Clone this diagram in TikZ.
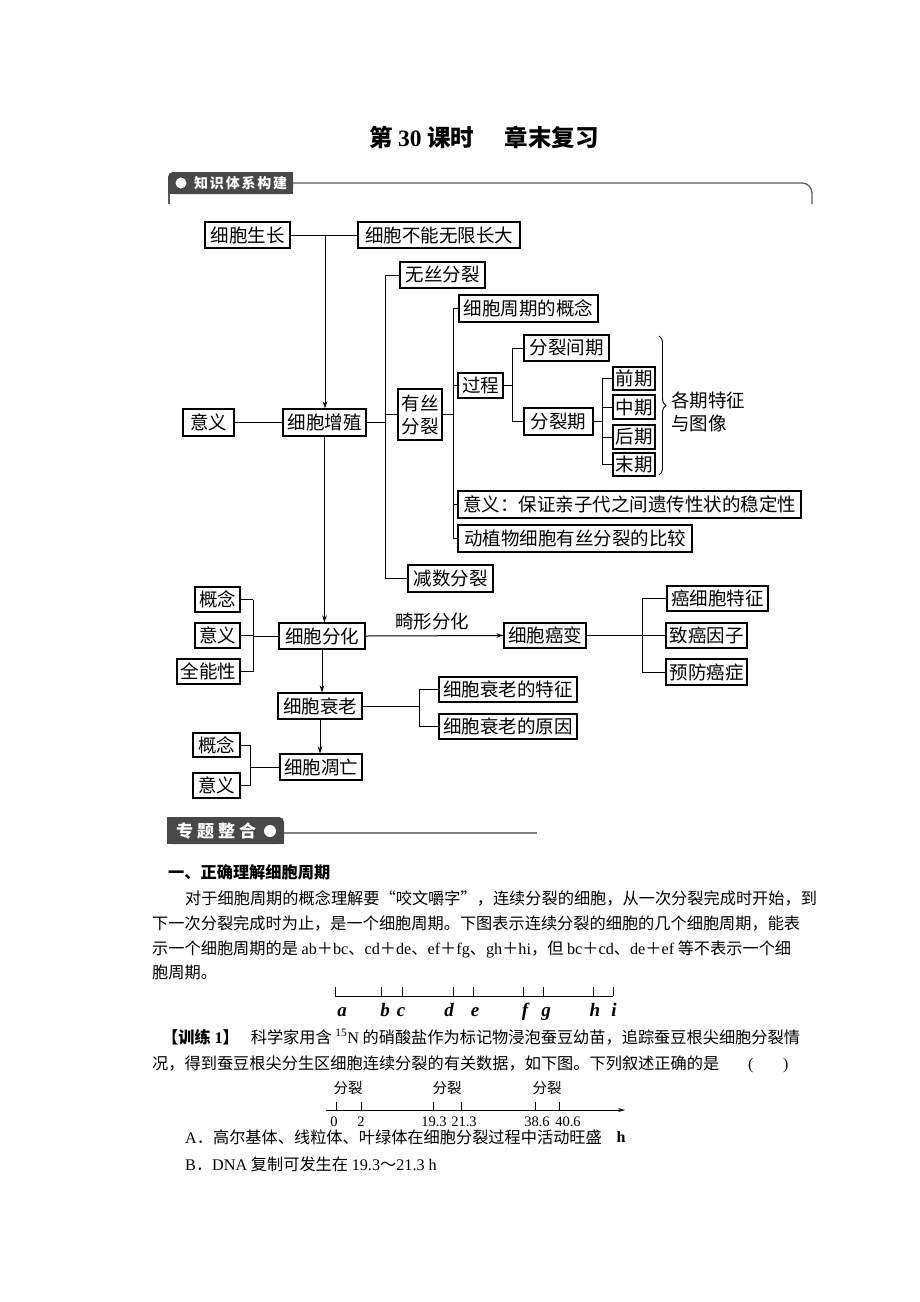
\documentclass[tikz,border=0pt]{standalone}
\usepackage{fontspec}
\setmainfont{Liberation Serif}
\newfontfamily\cjk{Noto Sans CJK SC}
\usetikzlibrary{arrows.meta,decorations.pathreplacing}
\definecolor{hdr}{RGB}{72,72,72}
\definecolor{hdrline}{RGB}{85,95,85}
\newcommand\lat[1]{{\rmfamily #1}}
\newcommand\hs{\hspace{1.8pt}}
\newcommand\mybox[6]{\node[bx,minimum width={#4-#2},minimum height={#5-#3}] (#1) at ({(#2+#4)/2},{(#3+#5)/2}) {#6};}
\begin{document}
\begin{tikzpicture}[x=1pt,y=-1pt,
 bx/.style={draw=black,line width=1.15pt,inner sep=0pt,fill=white,font=\cjk\fontsize{18.5}{22}\selectfont},
 ln/.style={draw=black,line width=1pt},
 ar/.style={ln,-{Stealth[length=7pt,width=4.5pt]}},
 txt/.style={anchor=base west,inner sep=0pt,font=\cjk\fontsize{16.2}{18}\selectfont},
 lbl/.style={inner sep=0pt,font=\cjk\fontsize{18.5}{22}\selectfont},
 tick/.style={inner sep=0pt,anchor=base,font=\fontsize{14.5}{16}\selectfont},
 abc/.style={inner sep=0pt,anchor=base,font=\fontsize{19}{22}\selectfont\bfseries\itshape},
 tl/.style={draw=black,line width=0.9pt}]
\fill[white] (0,0) rectangle (920,1302);
\useasboundingbox (0,0) rectangle (920,1302);

% title
\node[inner sep=0pt,font=\cjk\fontsize{23.5}{26}\selectfont\bfseries] (title) at (484,137) {第 \lat{\bfseries 30} 课时\hspace{1.3em}章末复习};

% header 1
\fill[hdr,rounded corners=5pt] (168,172) rectangle (293,194);
\fill[hdr] (168,178) rectangle (293,194);
\fill[hdr] (174,172) rectangle (293,194);
\fill[white] (181,183) circle (5.5);
\node[inner sep=0pt,anchor=west,text=white,font=\cjk\fontsize{14}{16}\selectfont\bfseries] (h1) at (194,183) {知\hs 识\hs 体\hs 系\hs 构\hs 建};
\draw[hdrline,line width=1.3pt,rounded corners=10pt] (293,183) -- (812,183) -- (812,204);
\draw[hdrline,line width=1.3pt] (169,194) -- (169,204);

% boxes
\mybox{grow}{205}{222}{290}{248}{细胞生长}
\mybox{limit}{358}{222}{520}{248}{细胞不能无限长大}
\mybox{amit}{400}{262}{485}{288}{无丝分裂}
\mybox{ccon}{459}{295}{598}{322}{细胞周期的概念}
\mybox{inter}{524}{335}{609}{361}{分裂间期}
\mybox{proc}{458}{373}{503}{398}{过程}
\node[bx,align=center,minimum width=44,minimum height=51,font=\cjk\fontsize{18.5}{23}\selectfont] (mito) at (420,414.5) {有丝\\分裂};
\mybox{mean1}{183}{409}{234}{436}{意义}
\mybox{prolif}{283}{409}{366}{436}{细胞增殖}
\mybox{mphase}{524}{408}{593}{435}{分裂期}
\mybox{pro}{613}{367}{655}{390}{前期}
\mybox{meta}{613}{395}{655}{419}{中期}
\mybox{ana}{613}{425}{655}{449}{后期}
\mybox{telo}{613}{453}{655}{476}{末期}
\mybox{mean2}{458}{491}{801}{518}{意义：保证亲子代之间遗传性状的稳定性}
\mybox{comp}{458}{525}{692}{552}{动植物细胞有丝分裂的比较}
\mybox{meio}{408}{565}{493}{592}{减数分裂}
\mybox{con1}{195}{587}{240}{612}{概念}
\mybox{mean3}{195}{623}{240}{648}{意义}
\mybox{toti}{177}{659}{240}{684}{全能性}
\mybox{diff}{279}{623}{365}{649}{细胞分化}
\mybox{canc}{504}{623}{586}{648}{细胞癌变}
\mybox{cf}{667}{586}{768}{611}{癌细胞特征}
\mybox{carc}{666}{623}{747}{648}{致癌因子}
\mybox{prev}{666}{659}{747}{685}{预防癌症}
\mybox{aging}{278}{693}{362}{719}{细胞衰老}
\mybox{af}{439}{677}{577}{702}{细胞衰老的特征}
\mybox{ac}{439}{714}{577}{739}{细胞衰老的原因}
\mybox{con2}{193}{733}{240}{757}{概念}
\mybox{mean4}{193}{773}{240}{798}{意义}
\mybox{apop}{280}{754}{362}{780}{细胞凋亡}

% connectors
\draw[ln] (grow) -- (limit);
\coordinate (j1) at (325,235);
\draw[ar] (j1) -- (j1 |- prolif.north);
\draw[ln] (mean1) -- (prolif);
% tree from prolif
\coordinate (t1) at (385,0);
\draw[ln] (prolif.east) -- (prolif.east -| t1);
\draw[ln] (t1 |- amit) -- (t1 |- meio);
\draw[ln] (t1 |- amit) -- (amit.west);
\draw[ln] (t1 |- mito) -- (mito.west);
\draw[ln] (t1 |- meio) -- (meio.west);
% tree from mito
\coordinate (t2) at (453,0);
\draw[ln] (mito.east) -- (mito.east -| t2);
\draw[ln] (t2 |- ccon) -- (t2 |- comp);
\draw[ln] (t2 |- ccon) -- (ccon.west);
\draw[ln] (t2 |- proc) -- (proc.west);
\draw[ln] (t2 |- mean2) -- (mean2.west);
\draw[ln] (t2 |- comp) -- (comp.west);
% tree from proc
\coordinate (t3) at (512,0);
\draw[ln] (proc.east) -- (proc.east -| t3);
\draw[ln] (t3 |- inter) -- (t3 |- mphase);
\draw[ln] (t3 |- inter) -- (inter.west);
\draw[ln] (t3 |- mphase) -- (mphase.west);
% tree from mphase
\coordinate (t4) at (602,0);
\draw[ln] (mphase.east) -- (mphase.east -| t4);
\draw[ln] (t4 |- pro) -- (t4 |- telo);
\draw[ln] (t4 |- pro) -- (pro.west);
\draw[ln] (t4 |- meta) -- (meta.west);
\draw[ln] (t4 |- ana) -- (ana.west);
\draw[ln] (t4 |- telo) -- (telo.west);
% brace
\draw[line width=0.9pt,decorate,decoration={brace,amplitude=7pt}] (659,336) -- (659,475);
\node[lbl,anchor=west,align=left,font=\cjk\fontsize{18.5}{23}\selectfont] (brt) at (671,412) {各期特征\\与图像};
% vertical main arrows
\draw[ar] (prolif.south) -- (prolif.south |- diff.north);
\draw[ar] (diff.south) -- (diff.south |- aging.north);
\draw[ar] (aging.south) -- (aging.south |- apop.north);
% diff left tree
\coordinate (t5) at (253,0);
\draw[ln] (diff.west) -- (diff.west -| t5);
\draw[ln] (t5 |- con1) -- (t5 |- toti);
\draw[ln] (con1.east) -- (con1.east -| t5);
\draw[ln] (mean3.east) -- (mean3.east -| t5);
\draw[ln] (toti.east) -- (toti.east -| t5);
% cancer
\draw[ar] (diff.east) -- (canc.west);
\node[lbl] (abn) at (432,622) {畸形分化};
\coordinate (t6) at (642,0);
\draw[ln] (canc.east) -- (canc.east -| t6);
\draw[ln] (t6 |- cf) -- (t6 |- prev);
\draw[ln] (t6 |- cf) -- (cf.west);
\draw[ln] (t6 |- carc) -- (carc.west);
\draw[ln] (t6 |- prev) -- (prev.west);
% aging tree
\coordinate (t7) at (419,0);
\draw[ln] (aging.east) -- (aging.east -| t7);
\draw[ln] (t7 |- af) -- (t7 |- ac);
\draw[ln] (t7 |- af) -- (af.west);
\draw[ln] (t7 |- ac) -- (ac.west);
% apoptosis tree
\coordinate (t8) at (250,0);
\draw[ln] (apop.west) -- (apop.west -| t8);
\draw[ln] (t8 |- con2) -- (t8 |- mean4);
\draw[ln] (con2.east) -- (con2.east -| t8);
\draw[ln] (mean4.east) -- (mean4.east -| t8);

% header 2
\fill[hdr,rounded corners=5pt] (167,817) rectangle (284,844);
\fill[hdr] (167,823) rectangle (284,844);
\fill[hdr] (167,817) rectangle (278,844);
\node[inner sep=0pt,anchor=west,text=white,font=\cjk\fontsize{17}{19}\selectfont\bfseries] (h2) at (176,831) {专\hspace{4pt}题\hspace{4pt}整\hspace{4pt}合};
\fill[white] (270,831) circle (6);
\draw[gray,line width=1.2pt] (284,833) -- (537,833);

% section text
\node[txt,font=\cjk\fontsize{16.2}{18}\selectfont\bfseries] (sec) at (168,878) {一、正确理解细胞周期};
\node[txt] (p1) at (185,904) {对于细胞周期的概念理解要“咬文嚼字”，连续分裂的细胞，从一次分裂完成时开始，到};
\node[txt] (p2) at (152,929) {下一次分裂完成时为止，是一个细胞周期。下图表示连续分裂的细胞的几个细胞周期，能表};
\node[txt] (p3) at (152,954) {示一个细胞周期的是 \lat{ab}＋\lat{bc}、\lat{cd}＋\lat{de}、\lat{ef}＋\lat{fg}、\lat{gh}＋\lat{hi}，但 \lat{bc}＋\lat{cd}、\lat{de}＋\lat{ef} 等不表示一个细};
\node[txt] (p4) at (152,978) {胞周期。};

% timeline 1
\draw[tl] (335,996) -- (613,996);
\foreach \x in {335,381,402,453,473,523,543,593,613} \draw[tl] (\x,987) -- (\x,996);
\node[abc] (la) at (342,1016) {a};
\node[abc] (lb) at (385,1016) {b};
\node[abc] (lc) at (401,1016) {c};
\node[abc] (ld) at (449,1016) {d};
\node[abc] (le) at (475,1016) {e};
\node[abc] (lf) at (525,1016) {f};
\node[abc] (lg) at (546,1016) {g};
\node[abc] (lh) at (595,1016) {h};
\node[abc] (li) at (614,1016) {i};

% training
\node[txt] (q1) at (162,1043) {{\bfseries 【训练 \lat{\bfseries 1}】}\hspace{12pt}科学家用含 \lat{\textsuperscript{15}N} 的硝酸盐作为标记物浸泡蚕豆幼苗，追踪蚕豆根尖细胞分裂情};
\node[txt] (q2) at (152,1069) {况，得到蚕豆根尖分生区细胞连续分裂的有关数据，如下图。下列叙述正确的是};
\node[txt,font=\fontsize{16}{18}\selectfont] (qp1) at (748,1069) {(};
\node[txt,font=\fontsize{16}{18}\selectfont] (qp2) at (783,1069) {)};

% timeline 2
\draw[tl,-{Stealth[length=7pt,width=4pt]}] (326,1110) -- (625,1110);
\foreach \x in {336,361,433,461,535,559} \draw[tl] (\x,1102) -- (\x,1110);
\node[tick] (n0) at (334,1126) {0};
\node[tick] (n2) at (361,1126) {2};
\node[tick] (n19) at (434,1126) {19.3};
\node[tick] (n21) at (464,1126) {21.3};
\node[tick] (n38) at (537,1126) {38.6};
\node[tick] (n40) at (568,1126) {40.6};
\node[tick,font=\fontsize{16}{18}\selectfont\bfseries] (nh) at (621,1142) {h};
\node[tick,font=\cjk\fontsize{14.5}{16}\selectfont] (s1) at (348,1093) {分裂};
\node[tick,font=\cjk\fontsize{14.5}{16}\selectfont] (s2) at (447,1093) {分裂};
\node[tick,font=\cjk\fontsize{14.5}{16}\selectfont] (s3) at (547,1093) {分裂};

% options
\node[txt] (oa) at (185,1143) {\lat{A}．高尔基体、线粒体、叶绿体在细胞分裂过程中活动旺盛};
\node[txt] (ob) at (185,1170) {\lat{B}．\lat{DNA} 复制可发生在 \lat{19.3}～\lat{21.3 h}};
\end{tikzpicture}
\end{document}
